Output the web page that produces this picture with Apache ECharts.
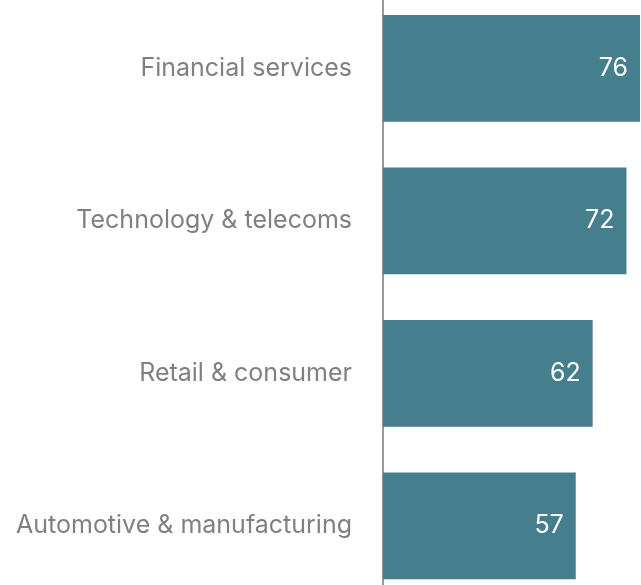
<!DOCTYPE html>
<html>
<head>
<meta charset="utf-8">
<script src="https://cdn.jsdelivr.net/npm/echarts@6/dist/echarts.min.js"></script>
<style>
  html, body { margin: 0; padding: 0; background: #fff; overflow: hidden; }
  /* taller than the window so the category bands line up with the original */
  #chart { position: absolute; left: 0; top: -8px; width: 641px; height: 610px; }
</style>
</head>
<body>
<div id="chart"></div>
<script>
const sectors = ['Financial services', 'Technology & telecoms', 'Retail & consumer', 'Automotive & manufacturing'];
const scores = [76, 72, 62, 57];

const chart = echarts.init(document.getElementById('chart'), null, {renderer: 'canvas', devicePixelRatio: 1});
chart.setOption({
  animation: false,
  grid: {left: 383, right: 1, top: 0, bottom: 0, containLabel: false},
  xAxis: {
    type: 'value',
    min: 0,
    max: 76,
    show: false,
  },
  yAxis: {
    type: 'category',
    data: sectors,
    inverse: true,
    offset: 7,
    axisLine: {show: true, lineStyle: {color: '#999999', width: 2}},
    axisTick: {show: false},
    axisLabel: {
      margin: 24,
      color: '#808080',
      fontFamily: 'Inter',
      fontSize: 25,
      padding: [4, 0, 0, 0],
    },
  },
  series: [
    {
      type: 'bar',
      data: scores,
      barCategoryGap: '30%',
      itemStyle: {color: '#457e8d'},
      label: {
        show: true,
        position: 'insideRight',
        distance: 12,
        color: '#fff',
        fontFamily: 'Inter',
        fontSize: 25,
      },
    },
  ],
});
</script>
</body>
</html>
